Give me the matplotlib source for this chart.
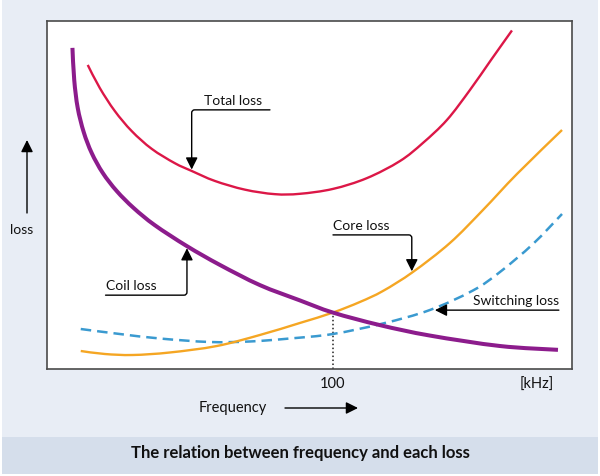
import numpy as np
import matplotlib
matplotlib.use('Agg')
import matplotlib.pyplot as plt
from matplotlib.path import Path
from matplotlib.patches import PathPatch, Rectangle, FancyArrowPatch

plt.rcParams['font.family'] = ['Lato', 'DejaVu Sans']

# ---- data (schematic units: frequency 0-100 across the box, loss 0-100) ----
coil_x = [4.9, 5.24, 5.90, 7.05, 8.57, 10.67, 13.33, 16.57, 20.57, 26.67, 32.95, 40.57,
          48.19, 54.48, 63.43, 72.95, 86.29, 97.33]
coil_y = [92.2, 83.0, 75.0, 68.0, 62.0, 56.3, 51.1, 46.2, 41.3, 35.3, 29.9, 24.1,
          19.7, 16.2, 12.6, 9.6, 6.6, 5.5]

total_x = [7.81, 10.10, 12.95, 16.19, 20.0, 24.38, 27.62, 32.0, 37.71, 43.43, 48.19,
           54.48, 60.95, 67.24, 71.62, 76.19, 80.57, 84.57, 88.57]
total_y = [87.3, 80.7, 74.1, 68.3, 63.2, 59.1, 56.85, 54.0, 51.5, 50.2, 50.3,
           51.7, 54.8, 59.7, 64.9, 71.5, 80.1, 88.7, 97.2]

core_x = [6.48, 11.05, 16.38, 23.43, 32.38, 40.57, 48.19, 54.48, 59.62, 64.0, 69.71,
          76.76, 83.05, 89.52, 98.10]
core_y = [5.17, 4.31, 4.02, 4.74, 6.60, 9.76, 13.21, 16.2, 19.24, 22.39, 27.85,
          36.18, 45.65, 55.99, 68.62]

switch_x = [6.48, 13.90, 21.52, 31.05, 38.67, 46.29, 54.48, 64.0, 72.95, 81.14, 86.29, 92.57, 98.10]
switch_y = [11.48, 10.05, 8.76, 7.75, 7.90, 8.76, 10.05, 13.06, 16.94, 22.54, 27.85, 35.89, 44.50]

tick_pos = [54.48, 93.3]
tick_labels = ['100', '[kHz]']

labels = {'total': 'Total loss', 'coil': 'Coil loss', 'core': 'Core loss', 'switch': 'Switching loss'}

# ---- colours ----
C_COIL = '#8C1C8C'
C_TOTAL = '#DC1747'
C_CORE = '#F5A623'
C_SWITCH = '#3A9AD0'
BG = '#E8EDF5'
BAND = '#D5DEEB'


def smooth_path(xs, ys):
    pts = np.column_stack([xs, ys]).astype(float)
    n = len(pts)
    verts = [pts[0]]
    codes = [Path.MOVETO]
    for i in range(n - 1):
        p0 = pts[max(i - 1, 0)]
        p1 = pts[i]
        p2 = pts[i + 1]
        p3 = pts[min(i + 2, n - 1)]
        c1 = p1 + (p2 - p0) / 6.0
        c2 = p2 - (p3 - p1) / 6.0
        verts += [c1, c2, p2]
        codes += [Path.CURVE4] * 3
    return Path(verts, codes)


fig = plt.figure(figsize=(6.0, 4.76), dpi=100)
fig.patch.set_facecolor('white')
fig.add_artist(Rectangle((2 / 600, 2 / 476), 596 / 600, 474 / 476,
                         transform=fig.transFigure, facecolor=BG, edgecolor='none', zorder=0))
fig.add_artist(Rectangle((2 / 600, 2 / 476), 596 / 600, 37 / 476,
                         transform=fig.transFigure, facecolor=BAND, edgecolor='none', zorder=0))

ax = fig.add_axes([46.7 / 600, 1 - 369 / 476, 525.3 / 600, 348.3 / 476])
ax.set_facecolor('white')
ax.set_xlim(0, 100)
ax.set_ylim(0, 100)
for s in ax.spines.values():
    s.set_color('#4A4A4A')
    s.set_linewidth(1.2)
ax.set_yticks([])
ax.set_xticks(tick_pos)
ax.set_xticklabels(tick_labels)
ax.tick_params(axis='x', length=0, pad=6, labelsize=10.5, labelcolor='#111111')

# curves
ax.add_patch(PathPatch(smooth_path(switch_x, switch_y), facecolor='none', edgecolor=C_SWITCH,
                       lw=1.8, linestyle=(0, (4.2, 2.4)), zorder=2))
ax.add_patch(PathPatch(smooth_path(core_x, core_y), facecolor='none', edgecolor=C_CORE,
                       lw=1.7, zorder=3))
ax.add_patch(PathPatch(smooth_path(coil_x, coil_y), facecolor='none', edgecolor=C_COIL,
                       lw=2.9, zorder=4))
ax.add_patch(PathPatch(smooth_path(total_x, total_y), facecolor='none', edgecolor=C_TOTAL,
                       lw=1.7, zorder=3))

# dotted line at 100 kHz up to the coil/core crossing
x100 = tick_pos[0]
y_cross = np.interp(x100, coil_x, coil_y)
ax.plot([x100, x100], [0, y_cross], color='#222222', lw=1.1, linestyle=(0, (1, 1.6)), zorder=1)

arrow_kw = dict(arrowstyle='-|>,head_length=0.6,head_width=0.3', mutation_scale=12,
                color='black', lw=1.0, shrinkA=0, shrinkB=0, zorder=6)


def bracket(start, tip, angleA=0, angleB=90):
    a = FancyArrowPatch(start, tip, connectionstyle=f'angle,angleA={angleA},angleB={angleB},rad=3',
                        **arrow_kw)
    ax.add_patch(a)


fs = 10
# Total loss
tx = 27.6
bracket((42.5, 74.4), (tx, np.interp(tx, total_x, total_y) + 0.4))
ax.text(35.4, 75.2, labels['total'], ha='center', va='bottom', fontsize=fs, color='#111111')
# Coil loss
cx = 26.7
bracket((11.2, 21.2), (cx, np.interp(cx, coil_x, coil_y) - 0.6))
ax.text(11.2, 22.0, labels['coil'], ha='left', va='bottom', fontsize=fs, color='#111111')
# Core loss
kx = 69.5
bracket((54.5, 38.5), (kx, np.interp(kx, core_x, core_y) + 0.4))
ax.text(54.5, 39.3, labels['core'], ha='left', va='bottom', fontsize=fs, color='#111111')
# Switching loss
sx = 73.9
ax.add_patch(FancyArrowPatch((97.5, 16.9), (sx, 16.9), **arrow_kw))
ax.text(97.5, 17.7, labels['switch'], ha='right', va='bottom', fontsize=fs, color='#111111')

# outer labels
fig.text(22 / 600, 1 - 230 / 476, 'loss', ha='center', va='center', fontsize=fs, color='#111111')
fig.add_artist(FancyArrowPatch((27 / 600, 1 - 213 / 476), (27 / 600, 1 - 140 / 476),
                               transform=fig.transFigure, **arrow_kw))
fig.text(233 / 600, 1 - 408 / 476, 'Frequency', ha='center', va='center', fontsize=10.5, color='#111111')
fig.add_artist(FancyArrowPatch((285 / 600, 1 - 408 / 476), (358 / 600, 1 - 408 / 476),
                               transform=fig.transFigure, **arrow_kw))

fig.text(300 / 600, 1 - 453 / 476, 'The relation between frequency and each loss',
         ha='center', va='center', fontsize=12, fontweight='bold', color='#111111')

fig.savefig('out.png', dpi=100)
